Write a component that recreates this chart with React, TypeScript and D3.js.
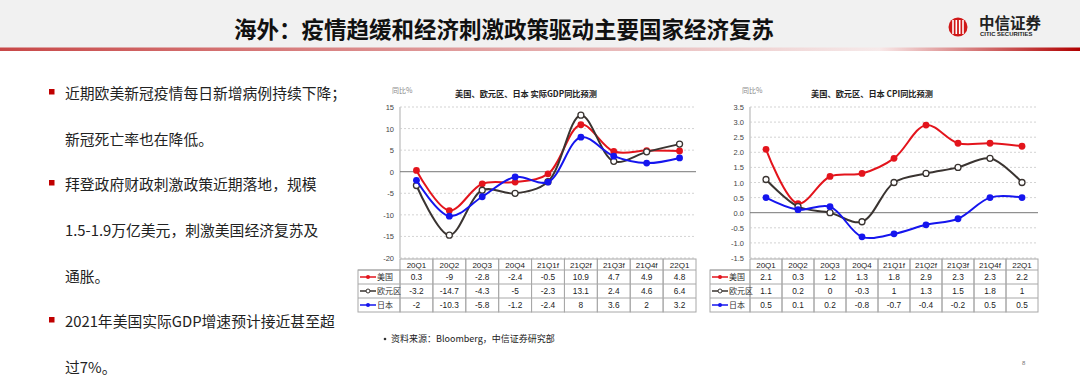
import React from "react";
import * as d3 from "d3";

const categories = ["20Q1", "20Q2", "20Q3", "20Q4", "21Q1f", "21Q2f", "21Q3f", "21Q4f", "22Q1"];
const seriesNames = ["美国", "欧元区", "日本"];
const gdpUS = [0.3, -9, -2.8, -2.4, -0.5, 10.9, 4.7, 4.9, 4.8];
const gdpEZ = [-3.2, -14.7, -4.3, -5, -2.3, 13.1, 2.4, 4.6, 6.4];
const gdpJP = [-2, -10.3, -5.8, -1.2, -2.4, 8, 3.6, 2, 3.2];
const cpiUS = [2.1, 0.3, 1.2, 1.3, 1.8, 2.9, 2.3, 2.3, 2.2];
const cpiEZ = [1.1, 0.2, 0, -0.3, 1, 1.3, 1.5, 1.8, 1];
const cpiJP = [0.5, 0.1, 0.2, -0.8, -0.7, -0.4, -0.2, 0.5, 0.5];
const gdpTicks = [15, 10, 5, 0, -5, -10, -15, -20];
const cpiTicks = [3.5, 3.0, 2.5, 2.0, 1.5, 1.0, 0.5, 0.0, -0.5, -1.0, -1.5];
const bullets = [
  ["近期欧美新冠疫情每日新增病例持续下降；", "新冠死亡率也在降低。"],
  ["拜登政府财政刺激政策近期落地，规模", "1.5-1.9万亿美元，刺激美国经济复苏及", "通胀。"],
  ["2021年美国实际GDP增速预计接近甚至超", "过7%。"],
];
const pageTitle = "海外：疫情趋缓和经济刺激政策驱动主要国家经济复苏";
const sourceText = "资料来源：Bloomberg，中信证券研究部";

const colors = ["#e3141c", "#3a3431", "#1515ee"];
const CJK = "'Noto Sans CJK SC', 'Liberation Sans', sans-serif";
const ARIAL = "'Liberation Sans', Arial, sans-serif";

type ChartProps = {
  title: string;
  x0: number;
  x1: number;
  yTop: number;
  yBot: number;
  domain: [number, number];
  ticks: number[];
  fmt: (v: number) => string;
  data: number[][];
  legendX: number;
};

function Chart({ title, x0, x1, yTop, yBot, domain, ticks, fmt, data, legendX }: ChartProps) {
  const x = d3.scaleBand<string>().domain(categories).range([x0, x1]);
  const y = d3.scaleLinear().domain(domain).range([yBot, yTop]);
  const line = d3
    .line<number>()
    .x((_, i) => (x(categories[i]) as number) + x.bandwidth() / 2)
    .y((v) => y(v))
    .curve(d3.curveCatmullRom.alpha(0.5));
  const headTop = yBot + 1;
  const headBot = 270;
  const rowH = 14;
  const tableBot = headBot + rowH * 3;
  const bw = x.bandwidth();
  return (
    <g>
      <text x={x0 - 8} y={93} fontSize={7} fill="#888" fontFamily={CJK}>
        同比%
      </text>
      <text x={(x0 + x1) / 2 - 22} y={97} fontSize={8.2} fontWeight="bold" fill="#222" textAnchor="middle" fontFamily={CJK}>
        {title}
      </text>
      {ticks.map((t) => (
        <g key={t}>
          {t !== 0 && (
            <line x1={x0} x2={x1} y1={y(t)} y2={y(t)} stroke="#c8c8c8" strokeWidth={0.8} strokeDasharray="2,2" />
          )}
          <text x={x0 - 6} y={y(t) + 3} fontSize={7.5} fill="#444" textAnchor="end" fontFamily={ARIAL}>
            {fmt(t)}
          </text>
        </g>
      ))}
      <line x1={x0} x2={x0} y1={yTop} y2={yBot} stroke="#c8c8c8" strokeWidth={1.5} />
      <line x1={x0} x2={x1} y1={y(0)} y2={y(0)} stroke="#777" strokeWidth={1} />
      {data.map((s, si) => (
        <g key={si}>
          <path d={line(s) as string} fill="none" stroke={colors[si]} strokeWidth={2} />
          {s.map((v, i) => (
            <circle
              key={i}
              cx={(x(categories[i]) as number) + bw / 2}
              cy={y(v)}
              r={si === 1 ? 3 : 3.4}
              fill={si === 1 ? "#fff" : colors[si]}
              stroke={colors[si]}
              strokeWidth={si === 1 ? 1.3 : 0}
            />
          ))}
        </g>
      ))}
      {categories.map((c, i) => {
        const cx = x(c) as number;
        return (
          <g key={c}>
            <rect x={cx} y={headTop} width={bw} height={tableBot - headTop} fill="none" stroke="#a8a8a8" strokeWidth={1} />
            <text x={cx + bw / 2} y={headTop + 8.5} fontSize={8} textAnchor="middle" fill="#222" fontFamily={ARIAL}>
              {c}
            </text>
            {data.map((s, si) => (
              <text key={si} x={cx + bw / 2} y={headBot + rowH * si + 10} fontSize={8.3} textAnchor="middle" fill="#222" fontFamily={ARIAL}>
                {String(s[i])}
              </text>
            ))}
          </g>
        );
      })}
      <rect x={legendX} y={headBot} width={x0 - legendX} height={rowH * 3} fill="none" stroke="#a8a8a8" strokeWidth={1} />
      {[0, 1, 2].map((r) => (
        <line key={r} x1={legendX} x2={x1} y1={headBot + rowH * r} y2={headBot + rowH * r} stroke="#a8a8a8" strokeWidth={1} />
      ))}
      {seriesNames.map((n, si) => {
        const cy = headBot + rowH * si + rowH / 2;
        return (
          <g key={n}>
            <line x1={legendX + 2} x2={legendX + 18} y1={cy} y2={cy} stroke={colors[si]} strokeWidth={1.5} />
            <circle cx={legendX + 10} cy={cy} r={2} fill={si === 1 ? "#fff" : colors[si]} stroke={colors[si]} strokeWidth={si === 1 ? 1 : 0} />
            <text x={legendX + 19} y={cy + 3} fontSize={8} fill="#333" fontFamily={CJK}>
              {n}
            </text>
          </g>
        );
      })}
    </g>
  );
}

export default function App() {
  let lineIdx = 0;
  const lineYs = [94, 140, 185, 231, 277, 322, 368];
  return (
    <svg width={1080} height={377} style={{ position: "absolute", left: 0, top: 0, background: "#fff" }}>
      <defs>
        <linearGradient id="redL" x1="0" x2="1" y1="0" y2="0">
          <stop offset="0" stopColor="#c84848" />
          <stop offset="1" stopColor="#f6eaea" />
        </linearGradient>
        <linearGradient id="redR" x1="0" x2="1" y1="0" y2="0">
          <stop offset="0" stopColor="#f8e8e8" />
          <stop offset="1" stopColor="#b00000" />
        </linearGradient>
      </defs>
      <rect x={0} y={0} width={1080} height={48} fill="#f1f1f1" />
      <rect x={0} y={47.5} width={880} height={3.5} fill="url(#redL)" />
      <rect x={880} y={47.5} width={200} height={3.5} fill="url(#redR)" />
      <text x={504} y={38} fontSize={22.5} fontWeight="bold" textAnchor="middle" fill="#111" fontFamily={CJK}>
        {pageTitle}
      </text>
      <g>
        <circle cx={958} cy={27} r={9.5} fill="#d01818" />
        {[-5, -1.7, 1.7, 5].map((dx, i) => (
          <rect key={i} x={958 + dx - 0.8} y={20} width={1.6} height={14} fill="#fff" />
        ))}
        <text x={979} y={28.5} fontSize={15.5} fontWeight="bold" fill="#222" fontFamily={CJK}>
          中信证券
        </text>
        <text x={980} y={36} fontSize={5.9} fontWeight="bold" fill="#222" fontFamily={ARIAL}>
          CITIC SECURITIES
        </text>
      </g>
      {bullets.map((para, pi) => (
        <g key={pi}>
          {para.map((t, li) => {
            const yy = lineYs[lineIdx++];
            return (
              <g key={li}>
                {li === 0 && <rect x={49} y={yy - 5} width={5.5} height={5.5} fill="#c00000" />}
                <text x={65} y={yy + 5} fontSize={14.8} fill="#222" fontFamily={CJK}>
                  {t}
                </text>
              </g>
            );
          })}
        </g>
      ))}
      <Chart
        title="美国、欧元区、日本 实际GDP同比预测"
        x0={400}
        x1={696}
        yTop={107}
        yBot={258}
        domain={[-20, 15]}
        ticks={gdpTicks}
        fmt={(v) => String(v)}
        data={[gdpUS, gdpEZ, gdpJP]}
        legendX={358}
      />
      <Chart
        title="美国、欧元区、日本 CPI同比预测"
        x0={750}
        x1={1038}
        yTop={107}
        yBot={258}
        domain={[-1.5, 3.5]}
        ticks={cpiTicks}
        fmt={(v) => v.toFixed(1)}
        data={[cpiUS, cpiEZ, cpiJP]}
        legendX={710}
      />
      <circle cx={385} cy={339} r={1.3} fill="#333" />
      <text x={391} y={342} fontSize={9} fill="#222" fontFamily={CJK}>
        {sourceText}
      </text>
      <text x={1022} y={365} fontSize={6} fill="#777" fontFamily={ARIAL}>
        8
      </text>
    </svg>
  );
}
